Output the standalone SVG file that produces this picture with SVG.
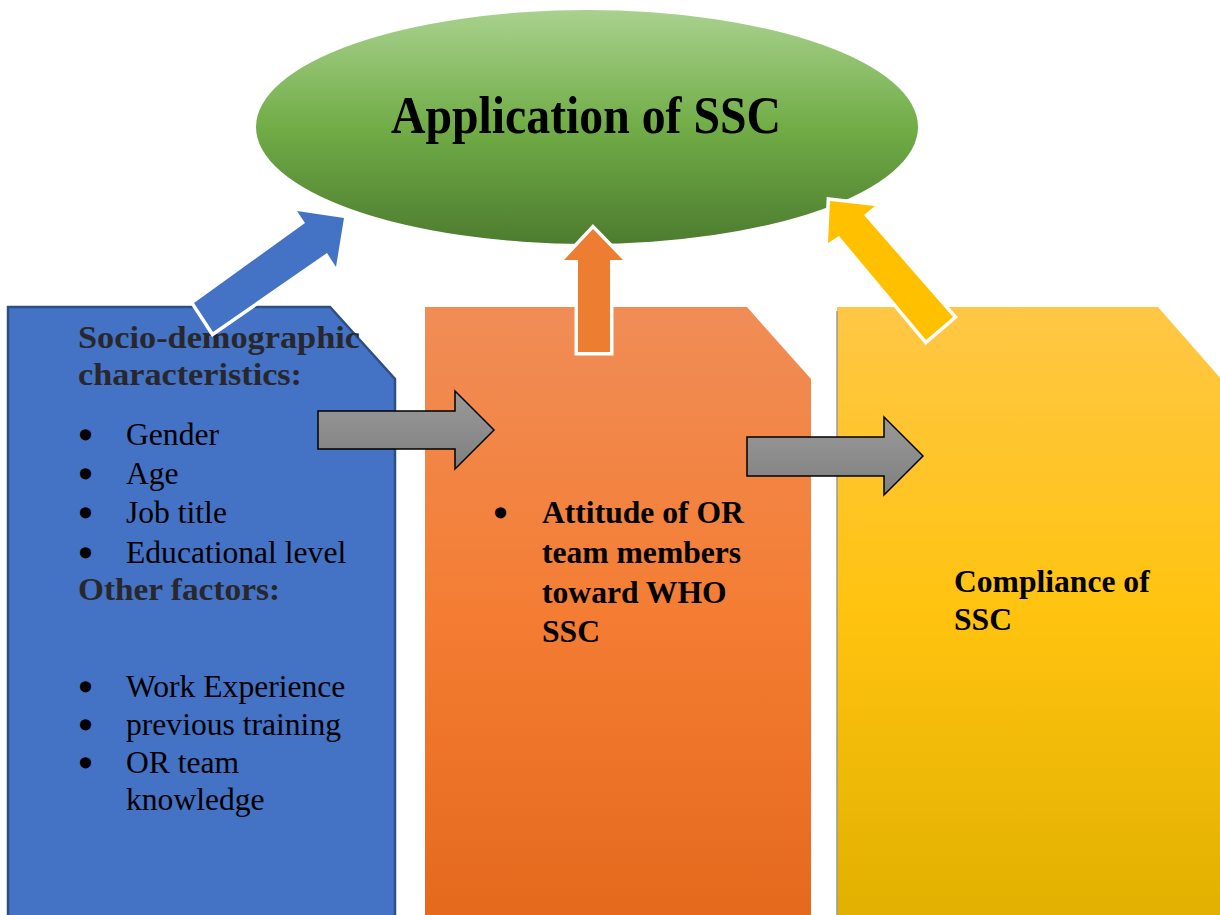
<svg xmlns="http://www.w3.org/2000/svg" width="1220" height="915" viewBox="0 0 1220 915">
  <defs>
    <linearGradient id="gGreen" x1="0" y1="0" x2="0" y2="1">
      <stop offset="0" stop-color="#a9d18e"/>
      <stop offset="0.5" stop-color="#71ad47"/>
      <stop offset="1" stop-color="#4d7c2f"/>
    </linearGradient>
    <linearGradient id="gOrange" x1="0" y1="0" x2="0" y2="1">
      <stop offset="0" stop-color="#f08d57"/>
      <stop offset="0.5" stop-color="#f47d33"/>
      <stop offset="1" stop-color="#e4691d"/>
    </linearGradient>
    <linearGradient id="gYellow" x1="0" y1="0" x2="0" y2="1">
      <stop offset="0" stop-color="#ffc746"/>
      <stop offset="0.5" stop-color="#ffc30f"/>
      <stop offset="1" stop-color="#e1b000"/>
    </linearGradient>
    <linearGradient id="gGray" x1="0" y1="0" x2="0" y2="1">
      <stop offset="0" stop-color="#9a9a9a"/>
      <stop offset="1" stop-color="#7f7f7f"/>
    </linearGradient>
  </defs>
  <style>
    .body { font-family: "Liberation Serif", "Times New Roman", serif; font-size: 31.6px; fill: #000; }
    .dot { font-family: "Liberation Serif", "Times New Roman", serif; font-size: 31.6px; font-weight: normal; fill: #000; stroke: #000; stroke-width: 3.6px; }
    .bold { font-family: "Liberation Serif", "Times New Roman", serif; font-size: 31.6px; font-weight: bold; fill: #000; }
    .head { font-family: "Liberation Serif", "Times New Roman", serif; font-size: 31px; font-weight: bold; fill: #28272b; }
    .block-arrow { stroke: #ffffff; stroke-width: 7; stroke-linejoin: miter; paint-order: stroke; }
    .flow-arrow { fill: url(#gGray); stroke: #000; stroke-width: 1.5; stroke-linejoin: miter; }
  </style>

  <rect width="1220" height="915" fill="#ffffff"/>

  <!-- Top goal -->
  <g id="node-application">
    <ellipse cx="587" cy="127" rx="331" ry="117" fill="url(#gGreen)"/>
    <text x="586" y="133" text-anchor="middle" font-family="Liberation Serif, Times New Roman, serif" font-weight="bold" font-size="53" textLength="390" lengthAdjust="spacingAndGlyphs" fill="#000">Application of SSC</text>
  </g>

  <!-- Factors -->
  <g id="node-factors">
    <path d="M8,307 L330,307 L395,379 L395,920 L8,920 Z" fill="#4472c4" stroke="#2f4f83" stroke-width="2.5"/>
    <text class="head" x="78" y="348" textLength="282" lengthAdjust="spacingAndGlyphs">Socio-demographic</text>
    <text class="head" x="78" y="385" textLength="224" lengthAdjust="spacingAndGlyphs">characteristics:</text>
    <text class="dot" x="80" y="446">•</text><text class="body" x="126" y="445">Gender</text>
    <text class="dot" x="80" y="485">•</text><text class="body" x="126" y="484">Age</text>
    <text class="dot" x="80" y="524">•</text><text class="body" x="126" y="523">Job title</text>
    <text class="dot" x="80" y="564">•</text><text class="body" x="126" y="563">Educational level</text>
    <text class="head" x="78" y="600" textLength="202" lengthAdjust="spacingAndGlyphs">Other factors:</text>
    <text class="dot" x="80" y="698">•</text><text class="body" x="126" y="697">Work Experience</text>
    <text class="dot" x="80" y="736">•</text><text class="body" x="126" y="735">previous training</text>
    <text class="dot" x="80" y="774">•</text><text class="body" x="126" y="773">OR team</text>
    <text class="body" x="126" y="810">knowledge</text>
  </g>

  <!-- Attitude -->
  <g id="node-attitude">
    <path d="M425,307 L747,307 L811,379 L811,920 L425,920 Z" fill="url(#gOrange)"/>
    <text class="dot" x="495" y="524">•</text>
    <text class="bold" x="542" y="523">Attitude of OR</text>
    <text class="bold" x="542" y="563">team members</text>
    <text class="bold" x="542" y="603">toward WHO</text>
    <text class="bold" x="542" y="642">SSC</text>
  </g>

  <!-- Compliance -->
  <g id="node-compliance">
    <path d="M837,307 L1158,307 L1222,380 L1222,920 L837,920 Z" fill="url(#gYellow)"/>
    <line x1="837" y1="311" x2="837" y2="915" stroke="#9a9a9a" stroke-width="1.5"/>
    <text class="bold" x="954" y="592">Compliance of</text>
    <text class="bold" x="954" y="630">SSC</text>
  </g>

  <!-- Connectors -->
  <g id="connectors">
    <!-- factors -> application -->
    <path class="block-arrow" fill="#4472c4" d="M194,303 L305,223 L297,211 L344,218 L336,267 L327,253 L213,332 Z"/>
    <!-- attitude -> application -->
    <path class="block-arrow" fill="#ed7d31" d="M578,352 L578,260 L564,260 L593,229 L623,260 L610,260 L610,352 Z"/>
    <!-- compliance -> application -->
    <path class="block-arrow" fill="#ffc000" d="M953,317 L864,215 L875,206 L830,201 L828,243 L839,236 L926,340 Z"/>
    <!-- factors -> attitude -->
    <path class="flow-arrow" d="M318,411 L455,411 L455,391 L494,430 L455,469 L455,449 L318,449 Z"/>
    <!-- attitude -> compliance -->
    <path class="flow-arrow" d="M747,437 L884,437 L884,417 L923,456 L884,495 L884,476 L747,476 Z"/>
  </g>
</svg>
